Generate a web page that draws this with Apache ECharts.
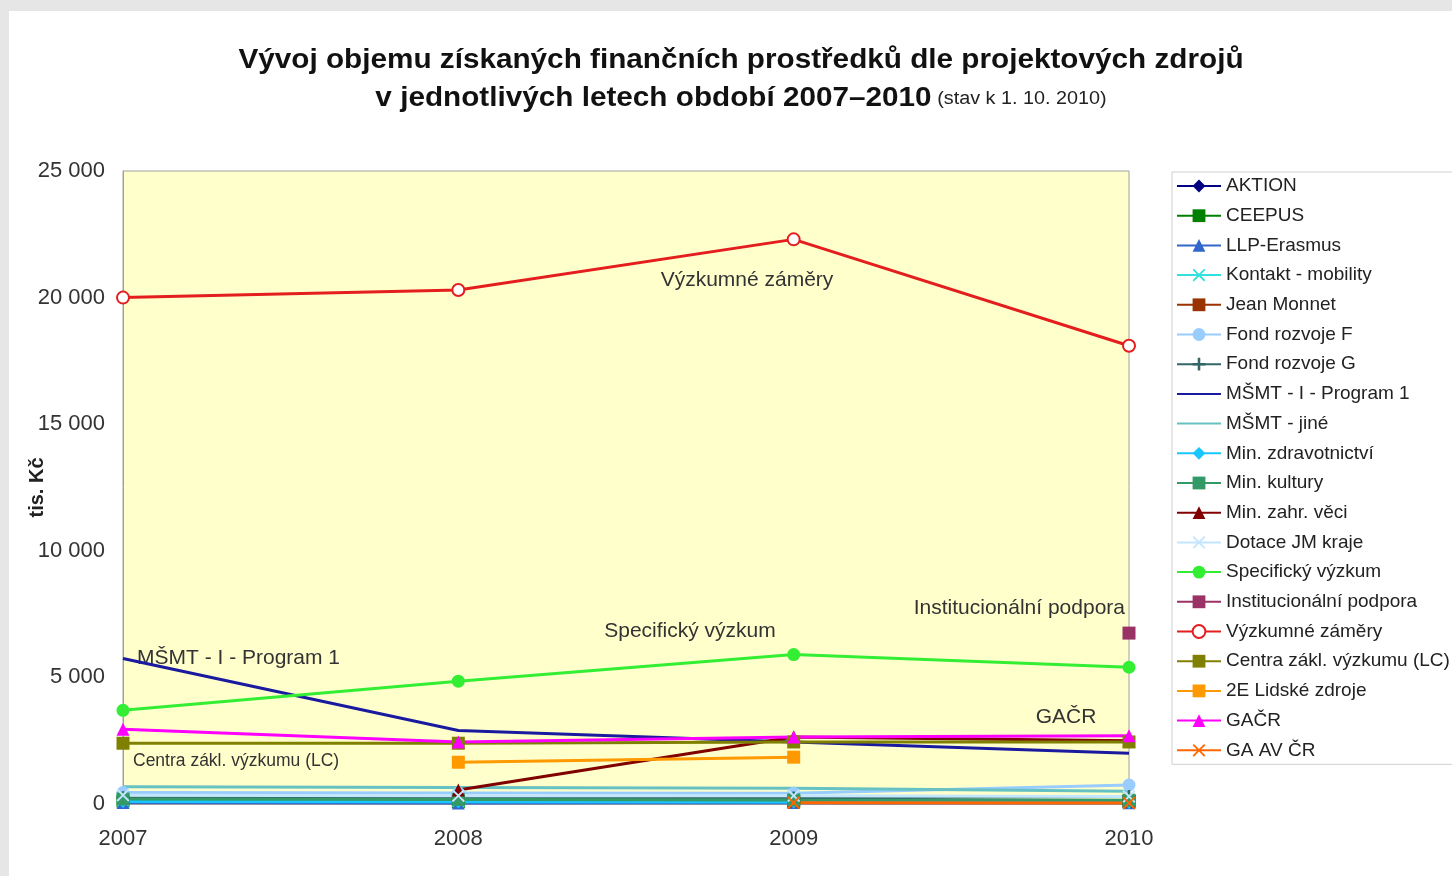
<!DOCTYPE html>
<html>
<head>
<meta charset="utf-8">
<script src="https://cdn.jsdelivr.net/npm/echarts@6/dist/echarts.min.js"></script>
<style>
  html, body { margin: 0; padding: 0; background: #e6e6e6; }
  #panel { position: absolute; left: 9px; top: 11px; width: 1443px; height: 865px; background: #fff; }
  #chart { position: absolute; left: 0; top: 0; width: 1452px; height: 876px; }
</style>
</head>
<body>
<div id="panel"></div>
<div id="chart"></div>
<script>
// roky na ose x
const years = ['2007', '2008', '2009', '2010']

// hodnoty v tis. Kč
const aktion = [80, 60, 90, 70]
const ceepus = [120, 100, 110, 90]
const llpErasmus = [60, 40, 60, 50]
const kontaktMobility = [150, 120, 140, 100]
const jeanMonnet = [null, null, 120, 110]
const fondF = [450, 430, 420, 750]
const fondG = [250, 230, 240, 300]
const msmtProgram1 = [5750, 2900, 2450, 2000]
const msmtJine = [680, 650, 620, 500]
const minZdrav = [100, 90, 80, 60]
const minKultury = [200, 180, 160, 150]
const minZahr = [null, 550, 2650, 2500]
const dotaceJM = [350, 330, 330, 300]
const specVyzkum = [3700, 4850, 5900, 5400]
const instPodpora = [null, null, null, 6750]
const vyzkZamery = [20000, 20300, 22300, 18100]
const centraLC = [2400, 2400, 2450, 2450]
const lidskeZdroje = [null, 1650, 1850, null]
const gacr = [2950, 2450, 2650, 2700]
const gaAvCr = [null, null, 50, 40]

const xMark = 'path://M0,1L1,0L5,4L9,0L10,1L6,5L10,9L9,10L5,6L1,10L0,9L4,5Z'
const plusMark = 'path://M4,0H6V4H10V6H6V10H4V6H0V4H4Z'

const seriesDefs = [
  { name: 'AKTION', data: aktion, color: '#000080', symbol: 'diamond' },
  { name: 'CEEPUS', data: ceepus, color: '#008000', symbol: 'rect' },
  { name: 'LLP-Erasmus', data: llpErasmus, color: '#3366cc', symbol: 'triangle' },
  { name: 'Kontakt - mobility', data: kontaktMobility, color: '#33e0e0', symbol: xMark },
  { name: 'Jean Monnet', data: jeanMonnet, color: '#993300', symbol: 'rect' },
  { name: 'Fond rozvoje F', data: fondF, color: '#99ccff', symbol: 'circle' },
  { name: 'Fond rozvoje G', data: fondG, color: '#336666', symbol: plusMark },
  { name: 'MŠMT - I - Program 1', data: msmtProgram1, color: '#1a1aa0', symbol: 'none' },
  { name: 'MŠMT - jiné', data: msmtJine, color: '#66c2c2', symbol: 'none' },
  { name: 'Min. zdravotnictví', data: minZdrav, color: '#1ac6ff', symbol: 'diamond' },
  { name: 'Min. kultury', data: minKultury, color: '#339966', symbol: 'rect' },
  { name: 'Min. zahr. věci', data: minZahr, color: '#800000', symbol: 'triangle' },
  { name: 'Dotace JM kraje', data: dotaceJM, color: '#c2e6ff', symbol: xMark },
  { name: 'Specifický výzkum', data: specVyzkum, color: '#33ee33', symbol: 'circle' },
  { name: 'Institucionální podpora', data: instPodpora, color: '#993366', symbol: 'rect' },
  { name: 'Výzkumné záměry', data: vyzkZamery, color: '#e41e1e', symbol: 'emptyCircle' },
  { name: 'Centra zákl. výzkumu (LC)', data: centraLC, color: '#808000', symbol: 'rect' },
  { name: '2E Lidské zdroje', data: lidskeZdroje, color: '#ff9900', symbol: 'rect' },
  { name: 'GAČR', data: gacr, color: '#ff00ff', symbol: 'triangle' },
  { name: 'GA AV ČR', data: gaAvCr, color: '#ff6600', symbol: xMark }
]

const fmt = v => String(v).replace(/\B(?=(\d{3})+(?!\d))/g, ' ')
const FONT = '"Liberation Sans", Arial, sans-serif'

const note = (text, x, y, align, size) => ({
  type: 'text',
  x: x,
  y: y,
  style: {
    text: text,
    fill: '#333',
    font: (size || 21) + 'px ' + FONT,
    textAlign: align,
    textVerticalAlign: 'middle'
  }
})

const option = {
  animation: false,
  textStyle: { fontFamily: FONT },
  legend: {
    orient: 'vertical',
    left: 1172,
    top: 172,
    padding: [4, 12, 4, 4],
    itemWidth: 44,
    itemHeight: 16,
    itemGap: 9.7,
    backgroundColor: '#fff',
    borderColor: '#cfcfcf',
    borderWidth: 1,
    textStyle: { fontSize: 19, color: '#222', lineHeight: 20, padding: [0, 0, 0, 0] },
    data: seriesDefs.map(s => s.symbol === 'none'
      ? { name: s.name, itemStyle: { opacity: 0 } }
      : s.name)
  },
  grid: {
    left: 123,
    right: 323,
    top: 171,
    bottom: 72,
    show: true,
    backgroundColor: '#ffffcc',
    borderColor: '#a0a0a0',
    borderWidth: 1
  },
  xAxis: {
    type: 'category',
    data: years,
    boundaryGap: false,
    axisLine: { lineStyle: { color: '#a0a0a0' } },
    axisTick: { show: false },
    axisLabel: { fontSize: 22, color: '#333', margin: 24 }
  },
  yAxis: {
    type: 'value',
    min: 0,
    max: 25000,
    interval: 5000,
    name: 'tis. Kč',
    nameLocation: 'middle',
    nameRotate: 90,
    nameGap: 76,
    nameMoveOverlap: false,
    nameTextStyle: { fontSize: 20, fontWeight: 'bold', color: '#222' },
    axisLine: { show: true, lineStyle: { color: '#a0a0a0' } },
    axisTick: { show: false },
    splitLine: { show: false },
    axisLabel: { fontSize: 22, color: '#333', margin: 18, formatter: fmt }
  },
  series: seriesDefs.map(s => ({
    name: s.name,
    type: 'line',
    data: s.data,
    symbol: s.symbol,
    symbolSize: s.symbol === 'emptyCircle' ? 12 : 13,
    showSymbol: s.symbol !== 'none',
    color: s.color,
    lineStyle: { width: 3, color: s.color },
    itemStyle: { color: s.color, borderWidth: s.symbol === 'emptyCircle' ? 1.5 : 0 }
  })),
  graphic: [
    {
      type: 'text',
      x: 741,
      y: 61,
      scaleX: 1.1,
      style: {
        text: 'Vývoj objemu získaných finančních prostředků dle projektových zdrojů',
        fill: '#111',
        font: 'bold 27px ' + FONT,
        textAlign: 'center',
        textVerticalAlign: 'middle'
      }
    },
    {
      type: 'text',
      x: 741,
      y: 99,
      scaleX: 1.1,
      style: {
        text: '{a|v jednotlivých letech období 2007–2010}{b| (stav k 1. 10. 2010)}',
        textAlign: 'center',
        textVerticalAlign: 'middle',
        rich: {
          a: { fontSize: 27, fontWeight: 'bold', fill: '#111', fontFamily: FONT },
          b: { fontSize: 18, fontWeight: 'normal', fill: '#222', fontFamily: FONT }
        }
      }
    },
    note('Výzkumné záměry', 747, 280, 'center'),
    note('Specifický výzkum', 690, 631, 'center'),
    note('MŠMT - I - Program 1', 137, 658, 'left'),
    note('Centra zákl. výzkumu (LC)', 133, 761, 'left', 17.5),
    note('Institucionální podpora', 1125, 608, 'right'),
    note('GAČR', 1066, 717, 'center')
  ]
}

const chart = echarts.init(document.getElementById('chart'))
chart.setOption(option)
</script>
</body>
</html>
